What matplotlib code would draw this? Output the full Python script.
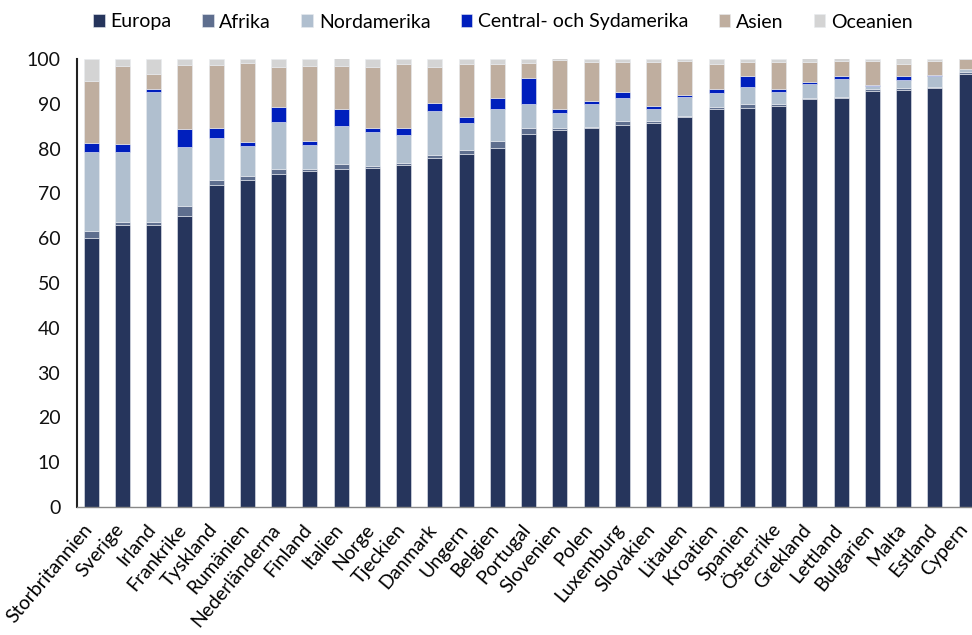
import matplotlib
matplotlib.use("Agg")
import matplotlib.pyplot as plt
import matplotlib.transforms as mtransforms
import numpy as np

plt.rcParams['font.family'] = ['Lato', 'DejaVu Sans']

countries = ["Storbritannien", "Sverige", "Irland", "Frankrike", "Tyskland", "Rumänien",
             "Nederländerna", "Finland", "Italien", "Norge", "Tjeckien", "Danmark", "Ungern",
             "Belgien", "Portugal", "Slovenien", "Polen", "Luxemburg", "Slovakien", "Litauen",
             "Kroatien", "Spanien", "Österrike", "Grekland", "Lettland", "Bulgarien", "Malta",
             "Estland", "Cypern"]

europa = [60.0, 62.9, 62.9, 65.0, 71.9, 73.0, 74.4, 75.0, 75.5, 75.7, 76.3, 77.8, 78.9,
          80.2, 83.3, 84.2, 84.7, 85.3, 85.8, 87.1, 88.9, 89.1, 89.6, 91.0, 91.2, 92.9,
          93.1, 93.5, 96.7]
afrika = [1.6, 0.8, 0.8, 2.2, 1.0, 0.9, 1.0, 0.4, 1.1, 0.4, 0.5, 0.8, 0.7,
          1.4, 1.3, 0.5, 0.2, 0.9, 0.4, 0.2, 0.3, 0.8, 0.3, 0.3, 0.3, 0.3,
          0.4, 0.3, 0.5]
nordamerika = [17.6, 15.5, 28.9, 13.1, 9.5, 6.7, 10.6, 5.3, 8.5, 7.6, 6.2, 9.9, 6.2,
               7.2, 5.4, 3.3, 5.0, 5.0, 2.6, 4.3, 3.2, 3.9, 2.8, 3.1, 4.1, 0.8,
               1.9, 2.3, 0.5]
central_syd = [2.0, 1.8, 0.7, 4.1, 2.2, 0.8, 3.2, 1.1, 3.7, 0.9, 1.6, 1.6, 1.3,
               2.4, 5.8, 0.8, 0.7, 1.4, 0.7, 0.4, 1.0, 2.5, 0.5, 0.5, 0.5, 0.3,
               0.8, 0.3, 0.1]
asien = [13.9, 17.4, 3.4, 14.3, 14.1, 17.7, 9.0, 16.6, 9.7, 13.6, 14.3, 8.1, 11.8,
         7.7, 3.4, 10.9, 8.8, 6.8, 9.9, 7.6, 5.5, 3.1, 6.2, 4.5, 3.5, 5.3,
         2.7, 3.2, 2.2]
oceanien = [4.9, 1.6, 3.3, 1.3, 1.3, 0.9, 1.8, 1.6, 1.8, 1.8, 1.1, 1.8, 1.1,
            1.1, 0.8, 1.1, 0.6, 0.6, 0.6, 0.4, 1.1, 0.6, 0.6, 1.1, 0.6, 0.4,
            1.3, 0.4, 0.4]

series = [("Europa", europa, "#26355c"),
          ("Afrika", afrika, "#5e6e8e"),
          ("Nordamerika", nordamerika, "#b0bfcf"),
          ("Central- och Sydamerika", central_syd, "#001fbd"),
          ("Asien", asien, "#bfae9f"),
          ("Oceanien", oceanien, "#d4d4d4")]

fig = plt.figure(figsize=(9.72, 6.35), dpi=100)
ax = fig.add_axes([77/972, (635-507)/635, (972-77)/972, (507-59)/635])

x = np.arange(len(countries))
bottom = np.zeros(len(countries))
for name, vals, col in series:
    vals = np.array(vals)
    ax.bar(x, vals, width=0.48, bottom=bottom, color=col, label=name,
           edgecolor="#e8ebf0", linewidth=0.4)
    bottom += vals

ax.set_xlim(-0.448, 28.19)
ax.set_ylim(0, 100)
ax.set_yticks(np.arange(0, 101, 10))
ax.tick_params(axis='y', labelsize=14, length=0, pad=12, colors="#111111")
ax.set_xticks(x)
labels = ax.set_xticklabels(countries, rotation=50, ha='right', rotation_mode='anchor',
                            fontsize=14)
ax.tick_params(axis='x', length=0, pad=10)
offset = mtransforms.ScaledTranslation(-8/100, 0, fig.dpi_scale_trans)
for lab in labels:
    lab.set_transform(lab.get_transform() + offset)

for s in ['top', 'right']:
    ax.spines[s].set_visible(False)
ax.spines['left'].set_color("#222222")
ax.spines['left'].set_linewidth(1.5)
ax.spines['bottom'].set_color("#888888")
ax.spines['bottom'].set_linewidth(1.0)

leg = fig.legend(loc='center', bbox_to_anchor=(503/972, 1 - 22/635), ncol=6, frameon=False,
                 fontsize=14, handlelength=0.6, handleheight=0.6, handletextpad=0.3,
                 columnspacing=1.55)

fig.savefig("out.png", dpi=100)
